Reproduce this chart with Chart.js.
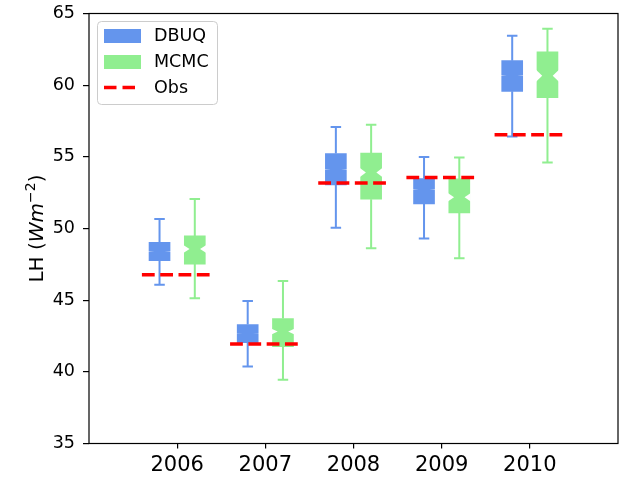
<!DOCTYPE html>
<html>
<head>
<meta charset="utf-8">
<script src="https://cdn.jsdelivr.net/npm/chart.js@4.4.0/dist/chart.umd.min.js"></script>
<style>
  body { margin: 0; background: #fff; }
  canvas { display: block; }
</style>
</head>
<body>
<canvas id="lhChart" width="631" height="477"></canvas>
<script>
'use strict';

// Years on the x axis
let years = [2006, 2007, 2008, 2009, 2010];

// DBUQ box stats (whisker low, q1, median, q3, whisker high, notch half height)
let dbuqLow = [46.07, 40.38, 50.06, 49.31, 56.42];
let dbuqQ1 = [47.75, 42.04, 53.04, 51.71, 59.57];
let dbuqMed = [48.40, 42.70, 54.14, 52.70, 60.66];
let dbuqQ3 = [49.03, 43.30, 55.23, 53.48, 61.71];
let dbuqHigh = [50.66, 44.95, 57.08, 54.98, 63.44];
let dbuqNotch = [0.015, 0.015, 0.015, 0.015, 0.015];

// MCMC box stats
let mcmcLow = [45.14, 39.45, 48.62, 47.92, 54.60];
let mcmcQ1 = [47.52, 41.76, 52.04, 51.08, 59.13];
let mcmcMed = [48.57, 42.81, 53.90, 52.18, 60.66];
let mcmcQ3 = [49.48, 43.72, 55.26, 53.46, 62.32];
let mcmcHigh = [52.06, 46.33, 57.24, 54.95, 63.93];
let mcmcNotch = [0.28, 0.20, 0.33, 0.29, 0.42];

// Observed values
let obs = [46.77, 41.94, 53.18, 53.55, 56.54];

let yTicks = [35, 40, 45, 50, 55, 60, 65];

const BLUE = '#6495ED';
const GREEN = '#90EE90';
const FONT = 'DejaVu Sans';

Chart.defaults.font.family = FONT;

function boxData(q1, q3, shift) {
  return years.map((yr, i) => ({x: yr + shift, y: [q1[i], q3[i]]}));
}

let obsData = [];
years.forEach((yr, i) => {
  obsData.push({x: yr - 0.4, y: obs[i]});
  obsData.push({x: yr + 0.4, y: obs[i]});
  obsData.push({x: yr + 0.5, y: null});
});

let boxStats = {
  DBUQ: {low: dbuqLow, q1: dbuqQ1, med: dbuqMed, q3: dbuqQ3, high: dbuqHigh, notch: dbuqNotch, color: BLUE},
  MCMC: {low: mcmcLow, q1: mcmcQ1, med: mcmcMed, q3: mcmcQ3, high: mcmcHigh, notch: mcmcNotch, color: GREEN}
};

// whiskers, caps and notches drawn right after each box dataset
const boxExtras = {
  id: 'boxExtras',
  afterDatasetDraw(chart, args) {
    let s = boxStats[chart.data.datasets[args.index].label];
    if (!s) return;
    let ctx = chart.ctx;
    let y = chart.scales.y;
    ctx.save();
    args.meta.data.forEach((bar, i) => {
      let bx = bar.x;
      let w = bar.width;
      // notch cut-outs
      let yMed = y.getPixelForValue(s.med[i]);
      let yLo = y.getPixelForValue(s.med[i] - s.notch[i]);
      let yHi = y.getPixelForValue(s.med[i] + s.notch[i]);
      ctx.fillStyle = '#fff';
      [-1, 1].forEach(side => {
        ctx.beginPath();
        ctx.moveTo(bx + side * (w / 2 + 1), yLo);
        ctx.lineTo(bx + side * w / 4, yMed);
        ctx.lineTo(bx + side * (w / 2 + 1), yHi);
        ctx.closePath();
        ctx.fill();
      });
      // whiskers
      ctx.strokeStyle = s.color;
      ctx.lineWidth = 2;
      ctx.beginPath();
      ctx.moveTo(bx, y.getPixelForValue(s.low[i]));
      ctx.lineTo(bx, y.getPixelForValue(s.q1[i]));
      ctx.moveTo(bx, y.getPixelForValue(s.q3[i]));
      ctx.lineTo(bx, y.getPixelForValue(s.high[i]));
      ctx.moveTo(bx - w / 4, y.getPixelForValue(s.low[i]));
      ctx.lineTo(bx + w / 4, y.getPixelForValue(s.low[i]));
      ctx.moveTo(bx - w / 4, y.getPixelForValue(s.high[i]));
      ctx.lineTo(bx + w / 4, y.getPixelForValue(s.high[i]));
      ctx.stroke();
    });
    ctx.restore();
  }
};

// frame, y label and legend
const decorations = {
  id: 'decorations',
  afterDraw(chart) {
    let ctx = chart.ctx;
    let a = chart.chartArea;
    ctx.save();

    ctx.strokeStyle = '#000';
    ctx.lineWidth = 1.2;
    ctx.strokeRect(a.left, a.top, a.right - a.left, a.bottom - a.top);

    // y axis label: LH (Wm^-2)
    let parts = [
      {t: 'LH (', f: '20px "' + FONT + '"', dy: 0},
      {t: 'Wm', f: 'oblique 20px "' + FONT + '"', dy: 0},
      {t: '\u22122', f: '14px "' + FONT + '"', dy: -8},
      {t: ')', f: '20px "' + FONT + '"', dy: 0}
    ];
    let total = 0;
    parts.forEach(p => { ctx.font = p.f; p.w = ctx.measureText(p.t).width; total += p.w; });
    ctx.translate(43, (a.top + a.bottom) / 2);
    ctx.rotate(-Math.PI / 2);
    ctx.fillStyle = '#000';
    ctx.textBaseline = 'alphabetic';
    let px = -total / 2;
    parts.forEach(p => {
      ctx.font = p.f;
      ctx.fillText(p.t, px, p.dy);
      px += p.w;
    });
    ctx.setTransform(1, 0, 0, 1, 0, 0);

    // legend
    ctx.beginPath();
    ctx.roundRect(97.5, 21.5, 120, 83, 4);
    ctx.fillStyle = 'rgba(255,255,255,0.8)';
    ctx.fill();
    ctx.strokeStyle = '#cccccc';
    ctx.lineWidth = 1;
    ctx.stroke();

    ctx.fillStyle = BLUE;
    ctx.fillRect(104, 29, 37, 14);
    ctx.fillStyle = GREEN;
    ctx.fillRect(104, 55, 37, 14);
    ctx.strokeStyle = 'red';
    ctx.lineWidth = 3.5;
    ctx.setLineDash([12.5, 6]);
    ctx.beginPath();
    ctx.moveTo(104, 87.5);
    ctx.lineTo(137, 87.5);
    ctx.stroke();
    ctx.setLineDash([]);

    ctx.fillStyle = '#000';
    ctx.font = '17.5px "' + FONT + '"';
    ctx.textBaseline = 'middle';
    ctx.fillText('DBUQ', 154, 36.5);
    ctx.fillText('MCMC', 154, 62.5);
    ctx.fillText('Obs', 154, 88);
    ctx.restore();
  }
};

const config = {
  type: 'bar',
  data: {
    datasets: [{
      type: 'line',
      label: 'Obs',
      data: obsData,
      borderColor: 'red',
      borderWidth: 3.5,
      borderDash: [12.8, 5.5],
      pointRadius: 0,
      spanGaps: false,
      fill: false,
      order: 0
    }, {
      label: 'MCMC',
      data: boxData(mcmcQ1, mcmcQ3, 0.2),
      backgroundColor: GREEN,
      barThickness: 21,
      grouped: false,
      borderWidth: 0,
      order: 1
    }, {
      label: 'DBUQ',
      data: boxData(dbuqQ1, dbuqQ3, -0.2),
      backgroundColor: BLUE,
      barThickness: 21,
      grouped: false,
      borderWidth: 0,
      order: 2
    }]
  },
  options: {
    responsive: false,
    animation: false,
    layout: {padding: {top: 13.5, right: 13, left: 0, bottom: 0}},
    plugins: {
      legend: {display: false},
      tooltip: {enabled: false}
    },
    scales: {
      x: {
        type: 'linear',
        min: 2005,
        max: 2011,
        offset: false,
        afterBuildTicks: (s) => { s.ticks = years.map(v => ({value: v})); },
        afterFit: (s) => { s.height = 33.5; s.paddingLeft = 0; s.paddingRight = 0; },
        ticks: {
          callback: (v) => String(v),
          font: {size: 21},
          color: '#000',
          padding: 4,
          maxRotation: 0,
          autoSkip: false
        },
        grid: {drawOnChartArea: false, offset: false, tickLength: 5, color: '#000', lineWidth: 1.2},
        border: {display: false}
      },
      y: {
        min: 35,
        max: 65,
        afterBuildTicks: (s) => { s.ticks = yTicks.map(v => ({value: v})); },
        afterFit: (s) => { s.width = 89; s.paddingTop = 0; s.paddingBottom = 0; },
        ticks: {font: {size: 17.5}, color: '#000', padding: 8},
        grid: {drawOnChartArea: false, tickLength: 6, color: '#000', lineWidth: 1.2},
        border: {display: false}
      }
    }
  },
  plugins: [boxExtras, decorations]
};

const lhChart = new Chart(document.getElementById('lhChart'), config);
</script>
</body>
</html>
